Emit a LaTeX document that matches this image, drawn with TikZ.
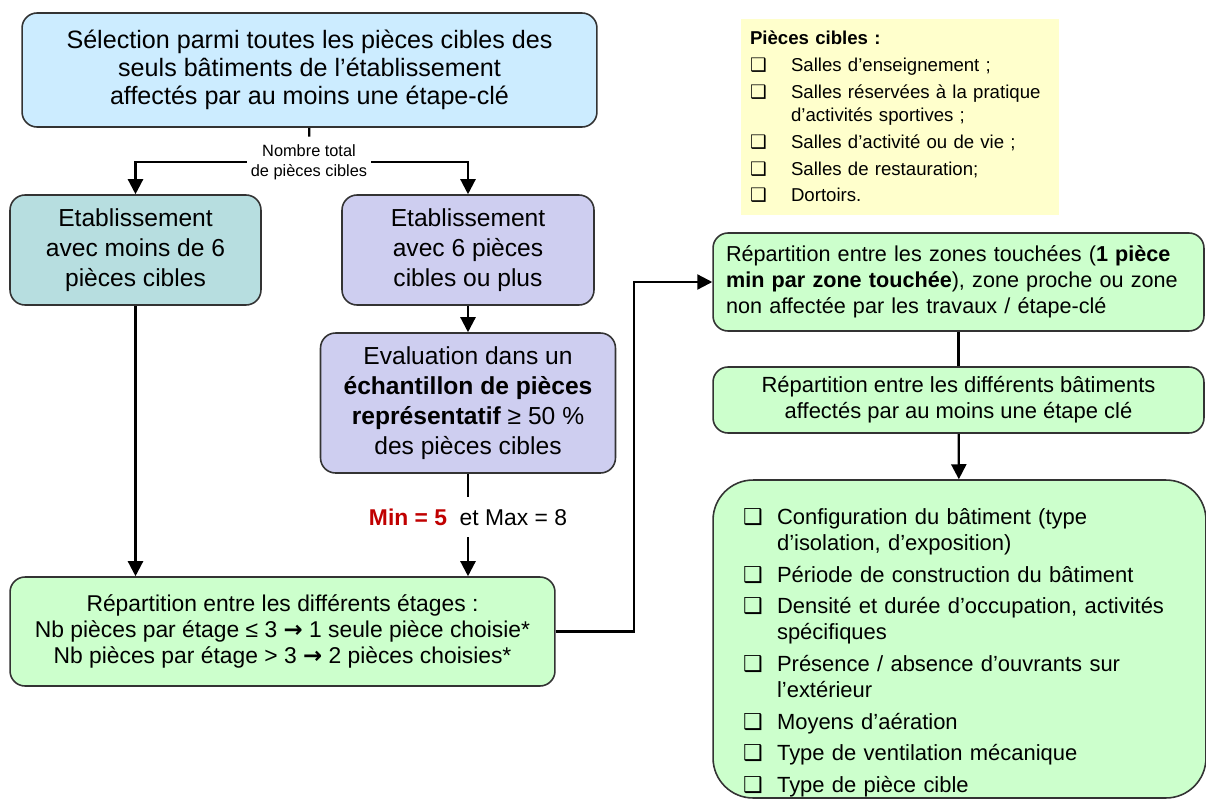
\documentclass[tikz,border=0pt]{standalone}
\usepackage{fontspec}
\setmainfont{Liberation Sans}
\newfontfamily\symfont{DejaVu Sans}
\usepackage{xcolor}
\usetikzlibrary{shapes,arrows.meta,positioning}
\definecolor{hi}{RGB}{192, 0, 0}
\definecolor{skyfill}{RGB}{204, 236, 255}
\definecolor{tealfill}{RGB}{183, 222, 224}
\definecolor{lavfill}{RGB}{206, 206, 240}
\definecolor{mintfill}{RGB}{204, 255, 204}
\definecolor{notefill}{RGB}{255, 255, 204}
\newcommand{\bx}{{\symfont ❑}}
\newcommand{\rarr}{{\symfont\bfseries →}}
\newcommand{\chk}[2][0.68cm]{\par\hangindent=#1\hangafter=1\noindent\makebox[#1][l]{\bx}#2}
\tikzstyle{block} = [rectangle, draw=black!80, line width=0.9pt, rounded corners=0.3cm, align=center, inner sep=0pt]
\tikzstyle{line} = [draw, line width=1.3pt, -{Triangle[length=0.3cm, width=0.3cm]}]
\tikzstyle{tick} = [draw, line width=1.3pt]

\begin{document}
\begin{tikzpicture}[x=0.02cm, y=-0.02cm]
    \useasboundingbox (0,0) rectangle (1206,801);
    % left column
    \node [block, fill=skyfill, minimum width=11.5cm, minimum height=2.28cm, font=\fontsize{14.3}{16}\selectfont] (select) at (309.5,70) {Sélection parmi toutes les pièces cibles des\\ seuls bâtiments de l’établissement\\ affectés par au moins une étape-clé};
    \node [font=\fontsize{9.3}{11.3}\selectfont, align=center, inner xsep=0.08cm, inner ysep=0pt, minimum height=1cm] (total) at (309,162) {Nombre total\\ de pièces cibles};
    \node [block, fill=tealfill, minimum width=5.02cm, minimum height=2.2cm, font=\fontsize{14}{17}\selectfont] (few) at (135.5,250) {Etablissement\\ avec moins de 6\\ pièces cibles};
    \node [block, fill=lavfill, minimum width=5.04cm, minimum height=2.2cm, font=\fontsize{14}{17}\selectfont] (many) at (468,250) {Etablissement\\ avec 6 pièces\\ cibles ou plus};
    \node [block, fill=lavfill, minimum width=5.9cm, minimum height=2.8cm, font=\fontsize{14}{17}\selectfont] (sample) at (468,403) {Evaluation dans un\\ \textbf{échantillon de pièces}\\ \textbf{représentatif} ≥ 50 \%\\ des pièces cibles};
    \node [font=\fontsize{13}{15}\selectfont, inner sep=0pt, minimum height=0.8cm] (minmax) at (468,517) {\textcolor{hi}{\textbf{Min = 5}}\ \ et Max = 8};
    \node [block, fill=mintfill, minimum width=10.9cm, minimum height=2.18cm, font=\fontsize{13}{14.7}\selectfont] (floors) at (282.5,631.5) {Répartition entre les différents étages :\\ Nb pièces par étage ≤ 3 \rarr{} 1 seule pièce choisie*\\ Nb pièces par étage > 3 \rarr{} 2 pièces choisies*};
    % right column
    \node [fill=notefill, minimum width=6.36cm, minimum height=3.92cm, text width=6cm, inner xsep=0.18cm, align=left, font=\fontsize{10.6}{13}\selectfont] (legend) at (900,117) {\parskip=2.3pt\textbf{Pièces cibles :}
        \chk[0.82cm]{Salles d’enseignement ;}
        \chk[0.82cm]{Salles réservées à la pratique\newline d’activités sportives ;}
        \chk[0.82cm]{Salles d’activité ou de vie ;}
        \chk[0.82cm]{Salles de restauration;}
        \chk[0.82cm]{Dortoirs.}};
    \node [block, fill=mintfill, minimum width=9.82cm, minimum height=1.96cm, text width=9.3cm, inner xsep=0.26cm, align=left, font=\fontsize{12.3}{14.7}\selectfont] (zones) at (958.5,282) {Répartition entre les zones touchées (\textbf{1 pièce}\\ \textbf{min par zone touchée}), zone proche ou zone\\ non affectée par les travaux / étape-clé};
    \node [block, fill=mintfill, minimum width=9.82cm, minimum height=1.32cm, font=\fontsize{12.5}{14.7}\selectfont] (bldg) at (958.5,400) {Répartition entre les différents bâtiments\\ affectés par au moins une étape clé};
    \node [block, fill=mintfill, rounded corners=0.8cm, minimum width=9.86cm, minimum height=6.36cm, text width=8.66cm, inner xsep=0.6cm, align=left, font=\fontsize{12.5}{14.7}\selectfont] (criteria) at (959.5,639) {\parskip=3.4pt\vspace*{0.24cm}
        \chk{Configuration du bâtiment (type\newline d’isolation, d’exposition)}
        \chk{Période de construction du bâtiment}
        \chk{Densité et durée d’occupation, activités\newline spécifiques}
        \chk{Présence / absence d’ouvrants sur\newline l’extérieur}
        \chk{Moyens d’aération}
        \chk{Type de ventilation mécanique}
        \chk{Type de pièce cible}};
    \coordinate (turn) at (634,631.5);

    \path [tick] (select) -- (total);
    \path [line] (total.west) -| (few);
    \path [line] (total.east) -| (many);
    \path [line] (few) -- (few |- floors.north);
    \path [line] (many) -- (sample);
    \path [tick] (sample) -- (minmax);
    \path [line] (minmax) -- (minmax |- floors.north);
    \path [line] (floors.east) -- (turn) |- (zones.west);
    \path [tick] (zones) -- (bldg);
    \path [line] (bldg) -- (criteria);
\end{tikzpicture}
\end{document}
